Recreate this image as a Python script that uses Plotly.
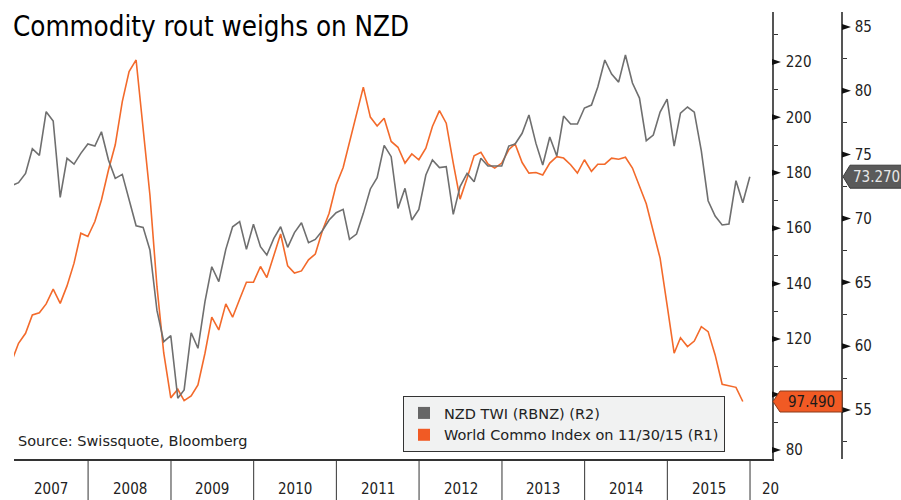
import pandas as pd
import plotly.graph_objects as go

# ---------------- data ----------------
nzd_twi = [72.6, 72.8, 73.53, 75.46, 74.94, 78.36, 77.63, 71.65, 74.71, 74.26,
           75.10, 75.83, 75.67, 76.79, 74.58, 73.14, 73.45, 71.44, 69.43, 69.30,
           67.53, 62.8, 60.35, 60.82, 55.92, 56.57, 61.05, 59.83, 63.48, 66.22,
           65.05, 67.58, 69.35, 69.75, 67.58, 69.54, 67.79, 67.14, 68.44, 69.35,
           67.74, 68.89, 69.67, 68.10, 68.36, 69.04, 69.88, 70.45, 70.71, 68.36,
           68.78, 70.40, 72.31, 73.19, 75.73, 74.84, 70.79, 72.36, 69.88, 70.71,
           73.40, 74.58, 73.98, 74.05, 70.32, 72.49, 73.53, 72.88, 74.71, 74.11,
           74.11, 74.11, 75.67, 75.83, 76.67, 78.10, 75.88, 74.19, 76.38, 74.89,
           78.02, 77.40, 77.40, 78.65, 78.88, 80.29, 82.41, 81.31, 80.68, 82.80,
           80.61, 79.43, 76.09, 76.53, 78.33, 79.35, 75.67, 78.25, 78.73, 78.33,
           75.3, 71.39, 70.19, 69.49, 69.57, 72.96, 71.23, 73.27]

commo_index = [112.5, 118.5, 122.1, 128.7, 129.5, 132.7, 138.0, 132.9, 139.2, 147.4,
               158.2, 157.0, 162.4, 170.2, 181.0, 190.1, 205.7, 216.5, 220.7, 195.5,
               172.0, 139.0, 115.0, 98.8, 101.9, 97.8, 99.5, 103.5, 114.9, 127.9,
               123.3, 132.7, 127.9, 134.4, 140.5, 140.5, 146.2, 142.2, 150.4, 157.9,
               146.4, 143.8, 144.6, 148.6, 150.7, 159.0, 165.4, 175.6, 181.9, 190.7,
               200.5, 210.9, 200.1, 196.9, 199.7, 191.3, 189.2, 183.5, 186.8, 184.7,
               188.9, 196.7, 202.4, 197.9, 183.5, 170.5, 178.0, 186.1, 187.4, 183.2,
               181.7, 183.5, 188.3, 190.4, 183.7, 179.9, 180.1, 179.2, 183.5, 185.8,
               185.3, 182.9, 179.9, 184.7, 180.5, 183.1, 183.1, 185.3, 184.9, 185.6,
               181.7, 175.0, 168.8, 158.8, 149.2, 132.3, 114.9, 120.5, 117.3, 119.3,
               124.5, 122.7, 114.3, 103.7, 103.2, 102.6, 97.49]

month_starts = pd.date_range("2007-01-01", periods=len(nzd_twi), freq="MS")
dates = list(month_starts + pd.offsets.MonthEnd(0))

years = [2007, 2008, 2009, 2010, 2011, 2012, 2013, 2014, 2015]
year_labels = ["2007", "2008", "2009", "2010", "2011", "2012", "2013", "2014", "2015"]

r1_ticks = [80, 100, 120, 140, 160, 180, 200, 220]
r1_ticktext = ["80", "", "120", "140", "160", "180", "200", "220"]   # 100 sits under the value tag
r2_ticks = [55, 60, 65, 70, 75, 80, 85]
r2_ticktext = ["55", "60", "65", "70", "75", "80", "85"]

nzd_name = "NZD TWI (RBNZ) (R2)"
commo_name = "World Commo Index on 11/30/15 (R1)"
last_nzd = nzd_twi[-1]
last_commo = commo_index[-1]

# ---------------- styles ----------------
FONT = "DejaVu Sans Condensed, DejaVu Sans, sans-serif"
FONT_WIDE = "DejaVu Sans, sans-serif"
GRAY = "#6f6f6f"
ORANGE = "#f36a2b"
AXIS = "#555555"

W, H = 901, 500
ML, MR, MT, MB = 14, 59, 12, 41
PW = W - ML - MR          # 828
PH = H - MT - MB          # 447
X_DOMAIN_END = (772 - ML) / PW

R1_RANGE = [76.75, 238.0]
R2_RANGE = [51.16, 86.17]

def px_to_paper_x(px):
    return (px - ML) / PW

def px_to_paper_y(py):
    return (MT + PH - py) / PH

r1_per_px = (R1_RANGE[1] - R1_RANGE[0]) / PH
r2_per_px = (R2_RANGE[1] - R2_RANGE[0]) / PH

fig = go.Figure()

fig.add_trace(go.Scatter(x=dates[:len(commo_index)], y=commo_index, mode="lines",
                         line=dict(color=ORANGE, width=1.6), yaxis="y",
                         showlegend=False, hoverinfo="skip"))
fig.add_trace(go.Scatter(x=dates, y=nzd_twi, mode="lines",
                         line=dict(color=GRAY, width=1.6), yaxis="y2",
                         showlegend=False, hoverinfo="skip"))

# legend entries (square swatches)
fig.add_trace(go.Scatter(x=[None], y=[None], mode="markers", name=nzd_name,
                         marker=dict(symbol="square", size=14, color="#666666"),
                         yaxis="y2"))
fig.add_trace(go.Scatter(x=[None], y=[None], mode="markers", name=commo_name,
                         marker=dict(symbol="square", size=14, color="#f15a24"),
                         yaxis="y"))

shapes = []
annotations = []

# triangular major tick marks on both right axes
def tick_triangles(ticks, yref, per_px, axis_px):
    x0 = px_to_paper_x(axis_px)
    x1 = px_to_paper_x(axis_px + 9)
    h = 3.0 * per_px
    for v in ticks:
        shapes.append(dict(type="path", xref="paper", yref=yref, layer="above",
                           path=f"M {x0},{v + h} L {x1},{v} L {x0},{v - h} Z",
                           fillcolor="#111111", line=dict(width=0)))

tick_triangles(r1_ticks, "y", r1_per_px, 772)
tick_triangles(r2_ticks, "y2", r2_per_px, 842)

# year separators below plot
for yr in years[1:] + [2016]:
    shapes.append(dict(type="line", xref="x", yref="paper",
                       x0=f"{yr}-01-01", x1=f"{yr}-01-01",
                       y0=-MB / PH, y1=0, line=dict(color="#333333", width=1)))

# year labels
for yr, lab in zip(years, year_labels):
    xpos = f"{yr}-07-02" if yr != 2007 else "2007-07-20"
    annotations.append(dict(text=lab, xref="x", yref="paper", x=xpos,
                            y=px_to_paper_y(489), xanchor="center", yanchor="middle",
                            showarrow=False, font=dict(family=FONT, size=15, color="#222222")))
annotations.append(dict(text="20", xref="x", yref="paper", x="2016-02-14",
                        y=px_to_paper_y(489), xanchor="left", yanchor="middle",
                        showarrow=False, font=dict(family=FONT, size=15, color="#222222")))

# title and source
annotations.append(dict(text="Commodity rout weighs on NZD", xref="paper", yref="paper",
                        x=px_to_paper_x(11), y=px_to_paper_y(26),
                        xanchor="left", yanchor="middle", showarrow=False,
                        font=dict(family=FONT, size=27.5, color="#000000")))
annotations.append(dict(text="Source: Swissquote, Bloomberg", xref="paper", yref="paper",
                        x=px_to_paper_x(16), y=px_to_paper_y(441),
                        xanchor="left", yanchor="middle", showarrow=False,
                        font=dict(family=FONT_WIDE, size=14.5, color="#222222")))

# last-value tags
h1 = 10.5 * r1_per_px
tip1, left1, right1 = px_to_paper_x(773), px_to_paper_x(780), px_to_paper_x(842)
shapes.append(dict(type="path", xref="paper", yref="y", layer="above",
                   path=(f"M {tip1},{last_commo} L {left1},{last_commo + h1} "
                         f"L {right1},{last_commo + h1} L {right1},{last_commo - h1} "
                         f"L {left1},{last_commo - h1} Z"),
                   fillcolor="#f15a24", line=dict(color="#8a3a1a", width=1)))
annotations.append(dict(text=f"{last_commo:.3f}", xref="paper", yref="y",
                        x=(left1 + right1) / 2, y=last_commo, xanchor="center",
                        yanchor="middle", showarrow=False,
                        font=dict(family=FONT, size=15, color="#1a1a1a")))

h2 = 11.5 * r2_per_px
tip2, left2, right2 = px_to_paper_x(843), px_to_paper_x(850), px_to_paper_x(902)
shapes.append(dict(type="path", xref="paper", yref="y2", layer="above",
                   path=(f"M {tip2},{last_nzd} L {left2},{last_nzd + h2} "
                         f"L {right2},{last_nzd + h2} L {right2},{last_nzd - h2} "
                         f"L {left2},{last_nzd - h2} Z"),
                   fillcolor="#5a5a5a", line=dict(color="#3a3a3a", width=1)))
annotations.append(dict(text=f"{last_nzd:.3f}", xref="paper", yref="y2",
                        x=px_to_paper_x(876), y=last_nzd, xanchor="center",
                        yanchor="middle", showarrow=False,
                        font=dict(family=FONT, size=15, color="#e8e8e8")))

tickfont = dict(family=FONT, size=15, color="#222222")
INVIS = "rgba(0,0,0,0)"

fig.update_layout(
    width=W, height=H,
    margin=dict(l=ML, r=MR, t=MT, b=MB, pad=0),
    paper_bgcolor="white", plot_bgcolor="white",
    xaxis=dict(type="date", domain=[0, X_DOMAIN_END],
               range=["2007-02-08", "2016-04-07"],
               showticklabels=False, ticks="", showgrid=False, zeroline=False,
               showline=True, linecolor="#333333", linewidth=1.5),
    yaxis=dict(side="right", anchor="x", range=R1_RANGE,
               tickmode="array", tickvals=r1_ticks, ticktext=r1_ticktext,
               ticks="outside", ticklen=9, tickwidth=1, tickcolor=INVIS,
               showline=True, linecolor=AXIS, linewidth=1.5,
               showgrid=False, zeroline=False, tickfont=tickfont,
               minor=dict(ticks="outside", tickmode="linear", dtick=10, tick0=80,
                          ticklen=4, tickwidth=1, tickcolor="#333333", showgrid=False)),
    yaxis2=dict(side="right", overlaying="y", anchor="free", position=1,
                range=R2_RANGE, tickmode="array", tickvals=r2_ticks, ticktext=r2_ticktext,
                ticks="outside", ticklen=9, tickwidth=1, tickcolor=INVIS,
                showline=True, linecolor=AXIS, linewidth=1.5,
                showgrid=False, zeroline=False, tickfont=tickfont,
                minor=dict(ticks="outside", tickmode="linear", dtick=2.5, tick0=55,
                           ticklen=4, tickwidth=1, tickcolor="#333333", showgrid=False)),
    legend=dict(x=px_to_paper_x(403), y=px_to_paper_y(396),
                xanchor="left", yanchor="top",
                bgcolor="#f1f2f2", bordercolor="#333333", borderwidth=1,
                font=dict(family=FONT_WIDE, size=14.5, color="#222222"),
                tracegroupgap=0, itemsizing="constant"),
    shapes=shapes,
    annotations=annotations,
    showlegend=True,
)

fig.write_html("out.html", config={"displayModeBar": False},
               post_script="document.body.style.margin='0';document.body.style.overflow='hidden';")
